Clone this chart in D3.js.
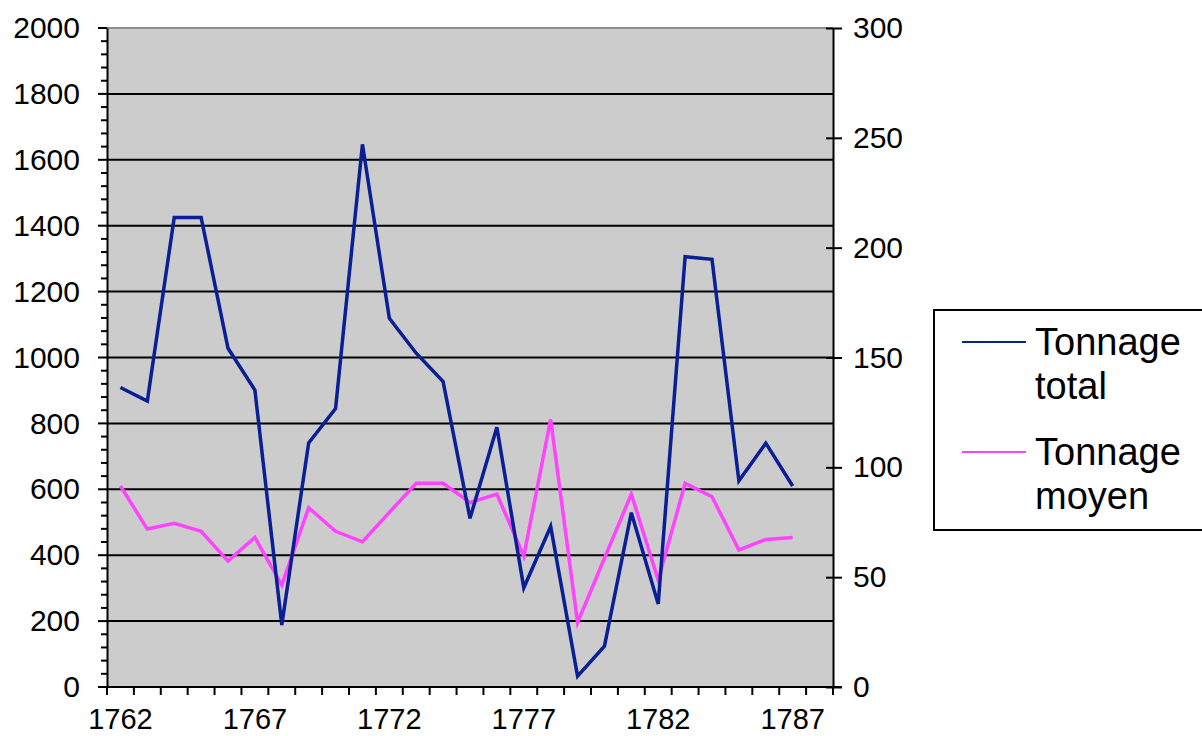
<!DOCTYPE html>
<html>
<head>
<meta charset="utf-8">
<script src="https://cdn.jsdelivr.net/npm/d3@7"></script>
<style>
  html, body { margin: 0; padding: 0; background: #fff; }
  svg { display: block; }
  text { font-family: "Liberation Sans", Arial, sans-serif; fill: #000; }
</style>
</head>
<body>
<svg id="chart" width="1202" height="736"></svg>
<script>
// Years on the category axis (the last one has no data)
const years = [1762, 1763, 1764, 1765, 1766, 1767, 1768, 1769, 1770, 1771, 1772, 1773, 1774,
               1775, 1776, 1777, 1778, 1779, 1780, 1781, 1782, 1783, 1784, 1785, 1786, 1787, 1788];
const yearLabels = [1762, 1767, 1772, 1777, 1782, 1787];

// Total tonnage (left axis)
const tonnageTotal = [909, 868, 1425, 1425, 1028, 901, 188, 741, 845, 1647, 1119, 1013, 927,
                      512, 788, 301, 487, 33, 124, 529, 252, 1306, 1298, 626, 740, 610, null];
// Average tonnage (right axis)
const tonnageMoyen = [91.5, 71.9, 74.5, 70.9, 57.3, 68.1, 46.4, 81.6, 70.9, 66.1, 79.5, 92.7, 92.7,
                      84, 87.8, 59.6, 121.8, 29.3, 58.6, 87.8, 48.7, 92.7, 86.6, 62.4, 67.2, 68.1, null];

const leftTicks = [0, 200, 400, 600, 800, 1000, 1200, 1400, 1600, 1800, 2000];
const leftMinor = d3.range(0, 2001, 40);
const rightTicks = [0, 50, 100, 150, 200, 250, 300];

const seriesNames = ["Tonnage total", "Tonnage moyen"];
const colTotal = "#0a1e96";
const colMoyen = "#ff44ff";

const svg = d3.select("#chart");
const plot = { left: 107, right: 833, top: 28, bottom: 687 };

const x = d3.scaleBand().domain(years).range([plot.left, plot.right]).padding(0);
const yL = d3.scaleLinear().domain([0, 2000]).range([plot.bottom, plot.top]);
const yR = d3.scaleLinear().domain([0, 300]).range([plot.bottom, plot.top]);

// Plot background
svg.append("rect")
  .attr("x", plot.left).attr("y", plot.top)
  .attr("width", plot.right - plot.left).attr("height", plot.bottom - plot.top)
  .attr("fill", "#cccccc");

// Horizontal gridlines
svg.append("g").selectAll("line")
  .data(leftTicks.filter(d => d > 0 && d < 2000))
  .join("line")
  .attr("x1", plot.left).attr("x2", plot.right)
  .attr("y1", d => yL(d)).attr("y2", d => yL(d))
  .attr("stroke", "#000").attr("stroke-width", 2);

// Top border of plot area
svg.append("line")
  .attr("x1", plot.left).attr("x2", plot.right)
  .attr("y1", plot.top).attr("y2", plot.top)
  .attr("stroke", "#8c8c8c").attr("stroke-width", 2);

// Left axis with minor ticks
svg.append("g").selectAll("line")
  .data(leftMinor)
  .join("line")
  .attr("x1", d => leftTicks.includes(d) ? plot.left - 9 : plot.left - 6)
  .attr("x2", plot.left)
  .attr("y1", d => yL(d)).attr("y2", d => yL(d))
  .attr("stroke", "#000").attr("stroke-width", 2);

const axisLeft = d3.axisLeft(yL).tickValues(leftTicks).tickFormat(d3.format("d"))
  .tickSize(0).tickPadding(27);
const gL = svg.append("g").attr("transform", `translate(${plot.left},0)`).call(axisLeft);
gL.select(".domain").attr("stroke", "#000").attr("stroke-width", 2);
gL.selectAll("text").attr("font-size", 30).attr("font-family", "Liberation Sans, Arial, sans-serif");

// Right axis with crossing ticks
const axisRight = d3.axisRight(yR).tickValues(rightTicks).tickFormat(d3.format("d"))
  .tickSize(0).tickPadding(20);
const gR = svg.append("g").attr("transform", `translate(${plot.right},0)`).call(axisRight);
gR.select(".domain").attr("stroke", "#000").attr("stroke-width", 2);
gR.selectAll("text").attr("font-size", 30).attr("font-family", "Liberation Sans, Arial, sans-serif");
gR.selectAll(".tick").append("line")
  .attr("x1", -7).attr("x2", 9)
  .attr("stroke", "#000").attr("stroke-width", 2);

// Bottom category axis: ticks on category boundaries, labels every five years
const gB = svg.append("g");
gB.append("line")
  .attr("x1", plot.left - 9).attr("x2", plot.right + 9)
  .attr("y1", plot.bottom).attr("y2", plot.bottom)
  .attr("stroke", "#000").attr("stroke-width", 2);
const boundaries = years.map(d => x(d)).concat([x(years[years.length - 1]) + x.bandwidth()]);
gB.selectAll("line.tk")
  .data(boundaries)
  .join("line").attr("class", "tk")
  .attr("x1", d => d).attr("x2", d => d)
  .attr("y1", plot.bottom).attr("y2", plot.bottom + 8)
  .attr("stroke", "#000").attr("stroke-width", 2);
gB.selectAll("text")
  .data(yearLabels)
  .join("text")
  .attr("x", d => x(d) + x.bandwidth() / 2)
  .attr("y", 729)
  .attr("text-anchor", "middle")
  .attr("font-size", 29)
  .text(d => d);

// Series lines
const cx = (d, i) => x(years[i]) + x.bandwidth() / 2;
const lineTotal = d3.line().defined(d => d != null).x(cx).y(d => yL(d));
const lineMoyen = d3.line().defined(d => d != null).x(cx).y(d => yR(d));

svg.append("path").datum(tonnageMoyen)
  .attr("d", lineMoyen).attr("fill", "none")
  .attr("stroke", colMoyen).attr("stroke-width", 3.5).attr("stroke-linejoin", "miter");
svg.append("path").datum(tonnageTotal)
  .attr("d", lineTotal).attr("fill", "none")
  .attr("stroke", colTotal).attr("stroke-width", 3.5).attr("stroke-linejoin", "miter");

// Legend
const lg = svg.append("g");
lg.append("rect")
  .attr("x", 934).attr("y", 310).attr("width", 290).attr("height", 220)
  .attr("fill", "#fff").attr("stroke", "#000").attr("stroke-width", 2);
const entries = [
  { name: seriesNames[0], color: colTotal, ly: 342, lines: ["Tonnage", "total"], base: 355 },
  { name: seriesNames[1], color: colMoyen, ly: 452, lines: ["Tonnage", "moyen"], base: 465 }
];
entries.forEach(e => {
  lg.append("line")
    .attr("x1", 962).attr("x2", 1026).attr("y1", e.ly).attr("y2", e.ly)
    .attr("stroke", e.color).attr("stroke-width", 2);
  const t = lg.append("text").attr("x", 1035).attr("y", e.base).attr("font-size", 38);
  e.lines.forEach((s, i) => {
    t.append("tspan").attr("x", 1035).attr("dy", i === 0 ? 0 : 44).text(s);
  });
});
</script>
</body>
</html>
